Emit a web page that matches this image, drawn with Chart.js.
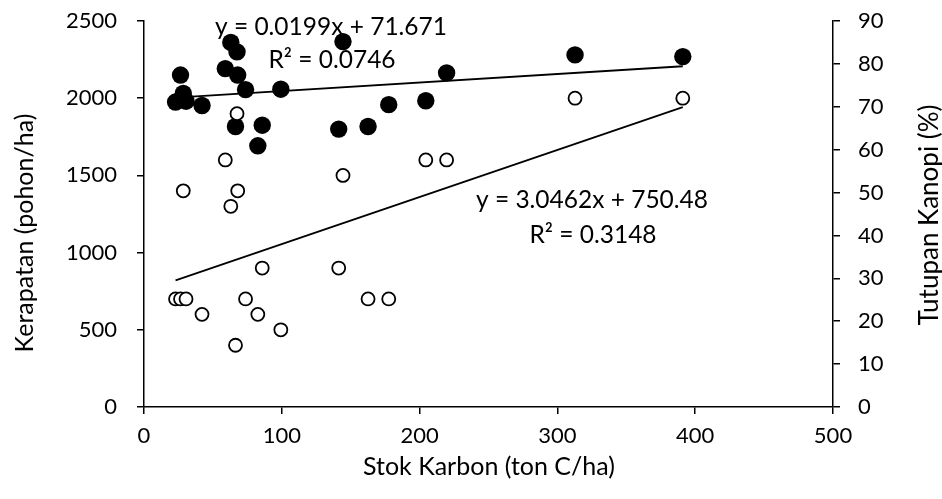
<!DOCTYPE html>
<html>
<head>
<meta charset="utf-8">
<script src="https://cdn.jsdelivr.net/npm/chart.js@4/dist/chart.umd.min.js"></script>
<style>
  html, body { margin: 0; padding: 0; background: #fff; }
  #wrap { width: 942px; height: 499px; position: relative; }
</style>
</head>
<body>
<div id="wrap"><canvas id="c" width="942" height="499"></canvas></div>
<script>
// ---- Data ----
const stokKarbon = [22.9, 26.5, 28.5, 30.5, 42.1, 59.0, 63.0, 66.4, 67.5, 68.0, 73.7,
                    82.6, 85.8, 99.3, 141.3, 144.4, 162.6, 177.6, 204.5, 219.6, 312.8, 391.0];
const kerapatan  = [700, 700, 1400, 700, 600, 1600, 1300, 400, 1900, 1400, 700,
                    600, 900, 500, 900, 1500, 700, 700, 1600, 1600, 2000, 2000];
const tutupanKanopi = [71.1, 77.4, 73.1, 71.3, 70.3, 78.9, 85.0, 65.4, 82.8, 77.4, 74.0,
                       60.9, 65.7, 74.1, 64.8, 85.2, 65.4, 70.5, 71.4, 77.9, 82.1, 81.7];
const xTicks = [0, 100, 200, 300, 400, 500];
const yLeftTicks = [0, 500, 1000, 1500, 2000, 2500];
const yRightTicks = [0, 10, 20, 30, 40, 50, 60, 70, 80, 90];

const trendKerapatan = { slope: 3.0462, intercept: 750.48 };
const trendTutupan = { slope: 0.0199, intercept: 71.671 };
const eqKerapatan = ['y = 3.0462x + 750.48', 'R² = 0.3148'];
const eqTutupan = ['y = 0.0199x + 71.671', 'R² = 0.0746'];

const xLabel = 'Stok Karbon (ton C/ha)';
const yLeftLabel = 'Kerapatan (pohon/ha)';
const yRightLabel = 'Tutupan Kanopi (%)';

// ---- Build datasets ----
const xMin = Math.min(...stokKarbon), xMax = Math.max(...stokKarbon);
const ptsK = stokKarbon.map((x, i) => ({ x, y: kerapatan[i] }));
const ptsT = stokKarbon.map((x, i) => ({ x, y: tutupanKanopi[i] }));
const lineK = [xMin, xMax].map(x => ({ x, y: trendKerapatan.slope * x + trendKerapatan.intercept }));
const lineT = [xMin, xMax].map(x => ({ x, y: trendTutupan.slope * x + trendTutupan.intercept }));

const FONT = 'Lato, "Open Sans", sans-serif';
const FS = 22;

const textPlugin = {
  id: 'texts',
  afterDraw(chart) {
    const ctx = chart.ctx;
    ctx.save();
    ctx.fillStyle = '#000';
    ctx.textAlign = 'center';
    ctx.textBaseline = 'middle';
    // axis titles
    ctx.font = '25px ' + FONT;
    ctx.fillText(xLabel, 489, 467);
    ctx.save(); ctx.translate(25, 233); ctx.rotate(-Math.PI / 2); ctx.fillText(yLeftLabel, 0, 0); ctx.restore();
    ctx.font = '26px ' + FONT;
    ctx.save(); ctx.translate(930, 215); ctx.rotate(-Math.PI / 2); ctx.fillText(yRightLabel, 0, 0); ctx.restore();
    // trend equations
    ctx.font = '24.5px ' + FONT;
    ctx.fillText(eqTutupan[0], 331, 27);
    ctx.fillText(eqTutupan[1], 332, 60);
    ctx.fillText(eqKerapatan[0], 592, 200);
    ctx.fillText(eqKerapatan[1], 593, 235);
    ctx.restore();
  }
};

const axisCommon = {
  grid: { drawOnChartArea: false, drawTicks: true, tickLength: 7, color: '#000', lineWidth: 1.5 },
  border: { display: true, color: '#000', width: 1.5 },
};

function fitVertical(width) {
  return function (s) { s.width = width; s.paddingTop = 0; s.paddingBottom = 0; };
}

new Chart(document.getElementById('c'), {
  type: 'scatter',
  data: {
    datasets: [
      { label: 'trendT', type: 'line', data: lineT, yAxisID: 'y1', borderColor: '#000', borderWidth: 1.8,
        pointRadius: 0, fill: false, order: 1 },
      { label: 'trendK', type: 'line', data: lineK, yAxisID: 'y', borderColor: '#000', borderWidth: 1.8,
        pointRadius: 0, fill: false, order: 1 },
      { label: 'Tutupan Kanopi', data: ptsT, yAxisID: 'y1', pointRadius: 8.7, pointBackgroundColor: '#000',
        pointBorderColor: '#000', pointBorderWidth: 0, order: 3, clip: false },
      { label: 'Kerapatan', data: ptsK, yAxisID: 'y', pointRadius: 6.5, pointBackgroundColor: '#fff',
        pointBorderColor: '#000', pointBorderWidth: 1.8, order: 2, clip: false },
    ]
  },
  options: {
    responsive: false,
    animation: false,
    layout: { autoPadding: false, padding: { top: 21, left: 0, right: 0, bottom: 0 } },
    plugins: { legend: { display: false }, tooltip: { enabled: false } },
    scales: {
      x: {
        type: 'linear', position: 'bottom', min: 0, max: 500,
        afterBuildTicks(s) { s.ticks = xTicks.map(v => ({ value: v })); },
        ticks: { color: '#000', font: { family: FONT, size: FS }, padding: 9, maxRotation: 0,
                 callback: v => String(v) },
        afterFit(s) { s.height = 92; s.paddingLeft = 0; s.paddingRight = 0; },
        ...axisCommon,
      },
      y: {
        type: 'linear', position: 'left', min: 0, max: 2500,
        afterBuildTicks(s) { s.ticks = yLeftTicks.map(v => ({ value: v })); },
        ticks: { color: '#000', font: { family: FONT, size: FS }, padding: 20, callback: v => String(v) },
        afterFit: fitVertical(144),
        ...axisCommon,
      },
      y1: {
        type: 'linear', position: 'right', min: 0, max: 90,
        afterBuildTicks(s) { s.ticks = yRightTicks.map(v => ({ value: v })); },
        ticks: { color: '#000', font: { family: FONT, size: FS }, padding: 18, callback: v => String(v) },
        afterFit: fitVertical(109),
        ...axisCommon,
      }
    }
  },
  plugins: [textPlugin]
});
</script>
</body>
</html>
